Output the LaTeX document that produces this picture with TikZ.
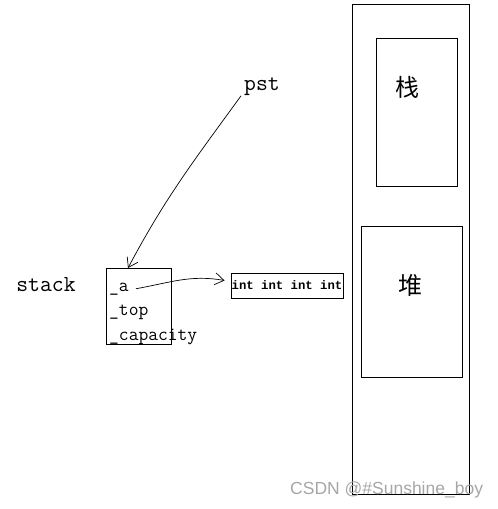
\documentclass[tikz,border=0pt]{standalone}
\usepackage{fontspec}
\newfontfamily\cjk{Noto Sans CJK SC}
\newfontfamily\wmfont{Liberation Sans}
\newfontfamily\cellfont{Liberation Mono}
\usetikzlibrary{arrows.meta,calc}

\tikzset{
  box/.style={draw, line width=0.9pt, inner sep=0pt},
  field/.style={anchor=base west, inner sep=0pt, font=\ttfamily\fontsize{19}{19}\selectfont},
  lbl/.style={anchor=base, inner sep=0pt, font=\ttfamily\fontsize{23}{23}\selectfont},
  zh/.style={font=\cjk\fontsize{24}{24}\selectfont},
  hand/.style={line width=0.7pt, -{Straight Barb[length=9pt,width=12pt]}},
}

\begin{document}
\begin{tikzpicture}[x=1pt,y=-1pt]
    \useasboundingbox (0,0) rectangle (498,509);

    % memory
    \node [box, minimum width=117pt, minimum height=490pt] (mem) at (410.5,249) {};
    \node [box, minimum width=81pt, minimum height=148pt] (stk) at (416.5,112) {};
    \node [box, minimum width=101pt, minimum height=151pt] (heap) at (411.5,301.5) {};
    \node [zh] (stklbl) at (407,87) {栈};
    \node [zh] (heaplbl) at (410,285) {堆};

    % struct
    \node [box, minimum width=65pt, minimum height=76pt] (st) at (138.5,306) {};
    \node [lbl] (name) at (46,291) {stack};
    \node [field] (fa) at (109,291) {\_a};
    \node [field] (ftop) at (109,315.5) {\_top};
    \node [field] (fcap) at (109,340) {\_capacity};
    \node [box, minimum width=112pt, minimum height=25pt, font=\cellfont\bfseries\fontsize{12.3}{12.3}\selectfont] (arr) at (287,285.5) {int int int int};
    \node [lbl] (pst) at (262,90.5) {pst};

    \coordinate (ptip) at (128,268);
    \draw [hand] ($(pst.south west)+(-3,0)$) to[out=-126,in=62] (ptip);
    \draw [hand] ($(fa.east)+(7,0)$) to[out=10,in=170] ($(arr.west)+(-6,-5)$);

    \node [anchor=west, inner sep=0pt, text=gray!70, font=\wmfont\fontsize{17.5}{17.5}\selectfont] (wm) at (290,490) {CSDN @\#Sunshine\_boy};
\end{tikzpicture}
\end{document}
